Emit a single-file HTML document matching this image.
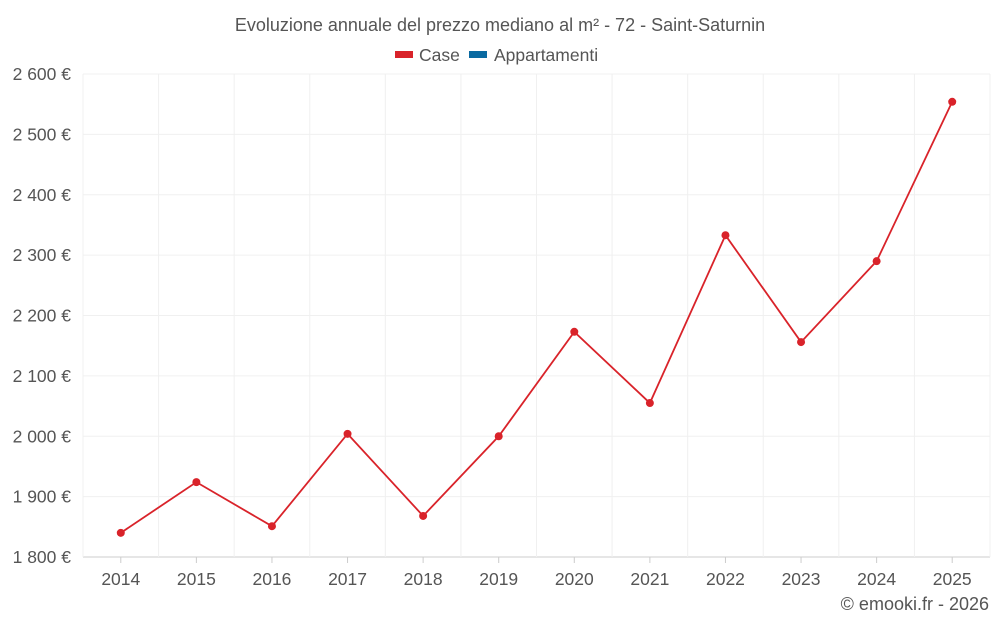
<!DOCTYPE html>
<html><head><meta charset="utf-8"><style>
body{margin:0;background:#fff;font-family:"Liberation Sans",sans-serif;}
svg text{font-family:"Liberation Sans",sans-serif;}
</style></head><body>
<svg id="chart" width="1000" height="625">
<text x="500" y="31" text-anchor="middle" font-size="18" fill="#555">Evoluzione annuale del prezzo mediano al m² - 72 - Saint-Saturnin</text>
<g>
<g><rect x="395" y="51" width="18" height="7" fill="#d9232a"/><text x="419" y="61" font-size="17.5" fill="#555">Case</text></g>
<g><rect x="469" y="51" width="18" height="7" fill="#0a6aa1"/><text x="494" y="61" font-size="17.5" fill="#555">Appartamenti</text></g>
</g>
<g id="grid"></g><g id="axes"></g><g id="series"></g>
<text x="989" y="610" text-anchor="end" font-size="18" fill="#555">© emooki.fr - 2026</text>
</svg>
<script>
const years=["2014","2015","2016","2017","2018","2019","2020","2021","2022","2023","2024","2025"];
const caseValues=[1840,1924,1851,2004,1868,2000,2173,2055,2333,2156,2290,2554];
const yTicks=[1800,1900,2000,2100,2200,2300,2400,2500,2600];
const yTickLabels=["1 800 €","1 900 €","2 000 €","2 100 €","2 200 €","2 300 €","2 400 €","2 500 €","2 600 €"];
const L=83,R=990,T=74,B=557,yMin=1800,yMax=2600;
const bw=(R-L)/years.length;
const x=i=>L+bw*(i+0.5);
const y=v=>B-(v-yMin)/(yMax-yMin)*(B-T);
const NS="http://www.w3.org/2000/svg";
function mk(t,a,p){const e=document.createElementNS(NS,t);for(const k in a)e.setAttribute(k,a[k]);p.appendChild(e);return e;}
const g=document.getElementById('grid'),ax=document.getElementById('axes'),s=document.getElementById('series');
yTicks.forEach((v,i)=>{
 const l=mk('line',{x1:L,x2:R,y1:y(v),y2:y(v),stroke:i==0?'#ccc':'#f0f0f0'},g);
 
 
 const t=mk('text',{x:71,y:y(v)+6,'text-anchor':'end','font-size':17.5,fill:'#555'},ax);
 t.textContent=yTickLabels[i];
 
 
});
for(let i=0;i<=years.length;i++){
 const l=mk('line',{x1:L+bw*i,x2:L+bw*i,y1:T,y2:B,stroke:'#f0f0f0'},g);
 
 
}
years.forEach((yr,i)=>{
 const tk=mk('line',{x1:x(i),x2:x(i),y1:B,y2:B+6,stroke:'#ccc'},ax);
 
 
 const t=mk('text',{x:x(i),y:585,'text-anchor':'middle','font-size':17.5,fill:'#555'},ax);
 t.textContent=yr;
 
 
});
const pl=mk('polyline',{points:caseValues.map((v,i)=>x(i)+','+y(v)).join(' '),fill:'none',stroke:'#d9232a','stroke-width':1.8},s);


caseValues.forEach((v,i)=>{
 const c=mk('circle',{cx:x(i),cy:y(v),r:4,fill:'#d9232a'},s);
 
 
});
</script>
</body></html>
